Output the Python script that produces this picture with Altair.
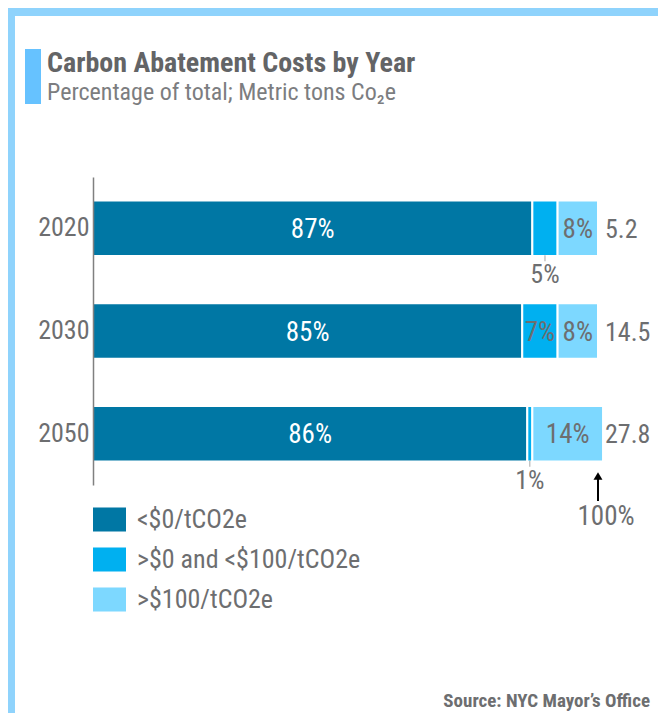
import altair as alt
import pandas as pd

# ---- data ----
years = ["2020", "2030", "2050"]
categories = ["<$0/tCO2e", ">$0 and <$100/tCO2e", ">$100/tCO2e"]
share_below_0 = [87, 85, 86]
share_0_to_100 = [5, 7, 1]
share_above_100 = [8, 8, 14]
total_labels = ["5.2", "14.5", "27.8"]

colors = ["#0077a4", "#00b0f0", "#7dd8ff"]
FONT = "Liberation Sans Narrow, Roboto Condensed, DejaVu Sans Condensed, Roboto, sans-serif"
GRAY = "#6d6e70"

rows = []
for i, yr in enumerate(years):
    start = 0
    vals = [share_below_0[i], share_0_to_100[i], share_above_100[i]]
    for j, (c, v) in enumerate(zip(categories, vals)):
        rows.append(dict(year=yr, cat=c, start=start, end=start + v, mid=start + v / 2,
                         label=f"{v}%", inside=bool(v >= 6), dark=bool(j == 0)))
        start += v
df = pd.DataFrame(rows)
tot_df = pd.DataFrame({"year": years, "label": total_labels})
one = pd.DataFrame({"k": [0]})

xs = alt.Scale(domain=[0, 100], nice=False, zero=True)
y_enc = alt.Y("year:N", sort=years,
              scale=alt.Scale(paddingInner=0.459, paddingOuter=0.2297),
              axis=alt.Axis(title=None, ticks=False, labelFontSize=26, labelColor=GRAY,
                            labelFont=FONT, labelPadding=4, domainColor="#808080",
                            domainWidth=1.5, zindex=1))

base = alt.Chart(df)

bars = base.mark_bar(stroke="white", strokeWidth=2).encode(
    x=alt.X("start:Q", scale=xs, axis=None),
    x2="end:Q",
    y=y_enc,
    color=alt.Color("cat:N", scale=alt.Scale(domain=categories, range=colors),
                    legend=alt.Legend(orient="none", legendX=0, legendY=326, title=None,
                                      symbolType="M-1,-0.72H1V0.72H-1Z", symbolSize=1089,
                                      symbolStrokeWidth=0, symbolOpacity=1,
                                      labelFontSize=26, labelColor=GRAY, labelFont=FONT,
                                      labelOffset=11, rowPadding=10, padding=0,
                                      labelLimit=400)),
)

inside = base.transform_filter("datum.inside").mark_text(
    fontSize=27, font=FONT, baseline="alphabetic", dy=9.5
).encode(
    x=alt.X("mid:Q", scale=xs, axis=None),
    y=y_enc,
    text="label:N",
    color=alt.condition("datum.dark", alt.value("white"), alt.value(GRAY)),
)

outside = base.transform_filter("!datum.inside").mark_text(
    fontSize=26, font=FONT, baseline="alphabetic", dy=55, color=GRAY
).encode(
    x=alt.X("mid:Q", scale=xs, axis=None),
    y=y_enc,
    text="label:N",
)

ticks = base.transform_filter("!datum.inside").mark_tick(
    orient="vertical", size=6, thickness=1, color="#808080", yOffset=30
).encode(
    x=alt.X("mid:Q", scale=xs, axis=None),
    y=y_enc,
)

tot = alt.Chart(tot_df).mark_text(
    fontSize=26, font=FONT, baseline="alphabetic", dy=9.5, dx=7, align="left", color=GRAY
).encode(
    x=alt.datum(100),
    y=y_enc,
    text="label:N",
)

arrow_line = alt.Chart(one).mark_rule(color="black", strokeWidth=2).encode(
    x=alt.datum(100), y=alt.value(300), y2=alt.value(324))
arrow_head = alt.Chart(one).mark_point(shape="triangle-up", filled=True, color="black",
                                       size=80, opacity=1).encode(
    x=alt.datum(100), y=alt.value(299))
arrow_text = alt.Chart(one).mark_text(fontSize=27, font=FONT, color=GRAY, baseline="alphabetic",
                                      dx=8).encode(
    x=alt.datum(100), y=alt.value(348), text=alt.value("100%"))

# decorations (frame, title accent, titles, source)
frame_top = alt.Chart(one).mark_rect(color="#8fd3fc").encode(
    x=alt.value(-85), x2=alt.value(565), y=alt.value(-169), y2=alt.value(-161))
frame_left = alt.Chart(one).mark_rect(color="#8fd3fc").encode(
    x=alt.value(-85), x2=alt.value(-78), y=alt.value(-169), y2=alt.value(536))
accent = alt.Chart(one).mark_rect(color="#66c2ff").encode(
    x=alt.value(-68), x2=alt.value(-52), y=alt.value(-128), y2=alt.value(-73))
title = alt.Chart(one).mark_text(fontSize=28, font=FONT, fontWeight="bold", color="#636466",
                                 align="left", baseline="alphabetic").encode(
    x=alt.value(-46), y=alt.value(-105), text=alt.value("Carbon Abatement Costs by Year"))
subtitle = alt.Chart(one).mark_text(fontSize=24, font=FONT, color="#7c7d80",
                                    align="left", baseline="alphabetic").encode(
    x=alt.value(-46), y=alt.value(-77), text=alt.value("Percentage of total; Metric tons Co\u2082e"))
source = alt.Chart(one).mark_text(fontSize=19, font=FONT, fontWeight="bold", color=GRAY,
                                  align="right", baseline="alphabetic").encode(
    x=alt.value(557), y=alt.value(530), text=alt.value("Source: NYC Mayor\u2019s Office"))

chart = alt.layer(
    frame_top, frame_left, accent, title, subtitle, source,
    bars, inside, outside, ticks, tot, arrow_line, arrow_head, arrow_text,
).properties(
    width=505, height=308,
    autosize=alt.AutoSizeParams(type="none"),
    padding={"left": 85, "top": 169, "right": 60, "bottom": 228},
).configure_view(stroke=None)

chart.save("out.html", embed_options={"renderer": "svg", "actions": False})
